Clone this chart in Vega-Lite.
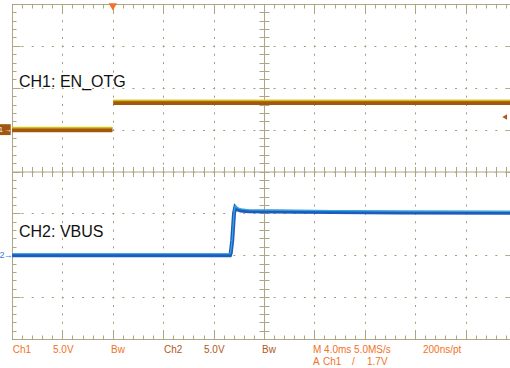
{
  "$schema": "https://vega.github.io/schema/vega-lite/v6.json",
  "width": 498,
  "height": 335,
  "autosize": {"type": "none"},
  "padding": {"left": 12, "top": 4, "right": 0, "bottom": 29},
  "background": "white",
  "config": {
    "view": {"stroke": null},
    "axis": {"domainColor": "#aea584", "tickColor": "#aea584", "gridColor": "#a39b7c", "domainWidth": 1, "tickWidth": 1, "gridWidth": 1, "labels": false, "gridOpacity": 1}
  },
  "datasets": {
    "dummy": [{"t": 0, "d": 0}],
    "ch1": [
      {"t": -8, "v": 0, "seg": "low"},
      {"t": -0.03, "v": 0, "seg": "low"},
      {"t": 0.03, "v": 3.25, "seg": "high"},
      {"t": 31.6, "v": 3.25, "seg": "high"}
    ],
    "ch2": [
      {"t": -8, "v": 0},
      {"t": 9.3, "v": 0},
      {"t": 9.36, "v": 0.25},
      {"t": 9.48, "v": 1.8},
      {"t": 9.62, "v": 5.0},
      {"t": 9.72, "v": 5.72},
      {"t": 9.86, "v": 5.5},
      {"t": 10.15, "v": 5.35},
      {"t": 10.8, "v": 5.25},
      {"t": 14.8, "v": 5.18},
      {"t": 22.7, "v": 5.1},
      {"t": 31.6, "v": 5.06}
    ],
    "labels": [
      {"t": -7.444, "d": 2.018, "text": "CH1: EN_OTG"},
      {"t": -7.444, "d": -1.576, "text": "CH2: VBUS"}
    ],
    "status": [
      {"t": -7.944, "d": -4.34, "text": "Ch1", "src": "ch1"},
      {"t": -4.746, "d": -4.34, "text": "5.0V", "src": "ch1"},
      {"t": -0.143, "d": -4.34, "text": "Bw", "src": "ch1"},
      {"t": 4.063, "d": -4.34, "text": "Ch2", "src": "ch2"},
      {"t": 7.238, "d": -4.34, "text": "5.0V", "src": "ch2"},
      {"t": 11.841, "d": -4.34, "text": "Bw", "src": "ch2"},
      {"t": 15.889, "d": -4.34, "text": "M 4.0ms 5.0MS/s", "src": "scope"},
      {"t": 24.619, "d": -4.34, "text": "200ns/pt", "src": "scope"},
      {"t": 15.889, "d": -4.61, "text": "A", "src": "scope"},
      {"t": 16.683, "d": -4.61, "text": "Ch1", "src": "ch1"},
      {"t": 18.984, "d": -4.61, "text": "/", "src": "scope"},
      {"t": 20.175, "d": -4.61, "text": "1.7V", "src": "scope"}
    ],
    "gnd1": [{"t0": -9, "t1": -8.1, "d0": 0.87, "d1": 1.13}],
    "markers": [
      {"t": 0, "d": 3.93, "kind": "trig"},
      {"t": 31.1, "d": 1.3, "kind": "level"}
    ]
  },
  "resolve": {
    "scale": {"x": "independent", "y": "independent"},
    "axis": {"x": "independent", "y": "independent"}
  },
  "layer": [
    {
      "data": {"name": "dummy"},
      "mark": {"type": "point", "opacity": 0},
      "encoding": {
        "x": {"field": "t", "type": "quantitative", "title": null,
          "scale": {"domain": [-8, 31.5238], "nice": false, "zero": false},
          "axis": {"orient": "bottom", "values": [-8, -4, 0, 4, 8, 12, 16, 20, 24, 28], "grid": true, "gridDash": [2, 6.375], "gridDashOffset": 1, "tickSize": -8, "domain": true, "labels": false}},
        "y": {"field": "d", "type": "quantitative", "title": null,
          "scale": {"domain": [-4, 4], "nice": false, "zero": false},
          "axis": {"orient": "left", "values": [-4, -3, -2, -1, 0, 1, 2, 3, 4], "grid": true, "gridDash": [2, 8.08], "gridDashOffset": 1, "tickSize": -8, "domain": true, "labels": false}}
      }
    },
    {
      "data": {"name": "dummy"},
      "mark": {"type": "point", "opacity": 0},
      "encoding": {
        "x": {"field": "t", "type": "quantitative", "title": null,
          "scale": {"domain": [-8, 31.5238], "nice": false, "zero": false},
          "axis": {"orient": "bottom", "values": [-8,-7.2,-6.4,-5.6,-4.8,-4,-3.2,-2.4,-1.6,-0.8,0,0.8,1.6,2.4,3.2,4,4.8,5.6,6.4,7.2,8,8.8,9.6,10.4,11.2,12,12.8,13.6,14.4,15.2,16,16.8,17.6,18.4,19.2,20,20.8,21.6,22.4,23.2,24,24.8,25.6,26.4,27.2,28,28.8,29.6,30.4,31.2], "grid": false, "tickSize": -4, "domain": false, "labels": false}},
        "y": {"field": "d", "type": "quantitative", "title": null,
          "scale": {"domain": [-4, 4], "nice": false, "zero": false},
          "axis": {"orient": "left", "values": [-4,-3.8,-3.6,-3.4,-3.2,-3,-2.8,-2.6,-2.4,-2.2,-2,-1.8,-1.6,-1.4,-1.2,-1,-0.8,-0.6,-0.4,-0.2,0,0.2,0.4,0.6,0.8,1,1.2,1.4,1.6,1.8,2,2.2,2.4,2.6,2.8,3,3.2,3.4,3.6,3.8,4], "grid": false, "tickSize": -4, "domain": false, "labels": false}}
      }
    },
    {
      "data": {"name": "dummy"},
      "mark": {"type": "point", "opacity": 0},
      "encoding": {
        "x": {"field": "t", "type": "quantitative", "title": null,
          "scale": {"domain": [-8, 31.5238], "nice": false, "zero": false},
          "axis": {"orient": "top", "values": [-8, -4, 0, 4, 8, 12, 16, 20, 24, 28], "grid": false, "tickSize": -8, "domain": true, "labels": false}},
        "y": {"field": "d", "type": "quantitative", "title": null,
          "scale": {"domain": [-4, 4], "nice": false, "zero": false},
          "axis": {"orient": "right", "offset": 7, "values": [-4, -3, -2, -1, 0, 1, 2, 3, 4], "grid": false, "tickSize": -10, "domain": false, "labels": false}}
      }
    },
    {
      "data": {"name": "dummy"},
      "mark": {"type": "point", "opacity": 0},
      "encoding": {
        "x": {"field": "t", "type": "quantitative", "title": null,
          "scale": {"domain": [-8, 31.5238], "nice": false, "zero": false},
          "axis": {"orient": "top", "values": [-8,-7.2,-6.4,-5.6,-4.8,-4,-3.2,-2.4,-1.6,-0.8,0,0.8,1.6,2.4,3.2,4,4.8,5.6,6.4,7.2,8,8.8,9.6,10.4,11.2,12,12.8,13.6,14.4,15.2,16,16.8,17.6,18.4,19.2,20,20.8,21.6,22.4,23.2,24,24.8,25.6,26.4,27.2,28,28.8,29.6,30.4,31.2], "grid": false, "tickSize": -4, "domain": false, "labels": false}},
        "y": {"field": "d", "type": "quantitative", "title": null,
          "scale": {"domain": [-4, 4], "nice": false, "zero": false},
          "axis": {"orient": "left", "offset": -252, "values": [-4,-3.8,-3.6,-3.4,-3.2,-3,-2.8,-2.6,-2.4,-2.2,-2,-1.8,-1.6,-1.4,-1.2,-1,-0.8,-0.6,-0.4,-0.2,0,0.2,0.4,0.6,0.8,1,1.2,1.4,1.6,1.8,2,2.2,2.4,2.6,2.8,3,3.2,3.4,3.6,3.8,4], "grid": false, "tickSize": 5, "domain": true, "labels": false}}
      }
    },
    {
      "data": {"name": "dummy"},
      "mark": {"type": "point", "opacity": 0},
      "encoding": {
        "x": {"field": "t", "type": "quantitative", "title": null,
          "scale": {"domain": [-8, 31.5238], "nice": false, "zero": false},
          "axis": {"orient": "bottom", "offset": -167.5, "values": [-8,-7.2,-6.4,-5.6,-4.8,-4,-3.2,-2.4,-1.6,-0.8,0,0.8,1.6,2.4,3.2,4,4.8,5.6,6.4,7.2,8,8.8,9.6,10.4,11.2,12,12.8,13.6,14.4,15.2,16,16.8,17.6,18.4,19.2,20,20.8,21.6,22.4,23.2,24,24.8,25.6,26.4,27.2,28,28.8,29.6,30.4,31.2], "grid": false, "tickSize": 5, "domain": true, "labels": false}},
        "y": {"field": "d", "type": "quantitative", "title": null,
          "scale": {"domain": [-4, 4], "nice": false, "zero": false},
          "axis": {"orient": "left", "offset": -252, "values": [-4,-3.8,-3.6,-3.4,-3.2,-3,-2.8,-2.6,-2.4,-2.2,-2,-1.8,-1.6,-1.4,-1.2,-1,-0.8,-0.6,-0.4,-0.2,0,0.2,0.4,0.6,0.8,1,1.2,1.4,1.6,1.8,2,2.2,2.4,2.6,2.8,3,3.2,3.4,3.6,3.8,4], "grid": false, "tickSize": -5, "domain": false, "labels": false}}
      }
    },
    {
      "data": {"name": "dummy"},
      "mark": {"type": "point", "opacity": 0},
      "encoding": {
        "x": {"field": "t", "type": "quantitative", "title": null,
          "scale": {"domain": [-8, 31.5238], "nice": false, "zero": false},
          "axis": {"orient": "bottom", "offset": -167.5, "values": [-8,-7.2,-6.4,-5.6,-4.8,-4,-3.2,-2.4,-1.6,-0.8,0,0.8,1.6,2.4,3.2,4,4.8,5.6,6.4,7.2,8,8.8,9.6,10.4,11.2,12,12.8,13.6,14.4,15.2,16,16.8,17.6,18.4,19.2,20,20.8,21.6,22.4,23.2,24,24.8,25.6,26.4,27.2,28,28.8,29.6,30.4,31.2], "grid": false, "tickSize": -5, "domain": false, "labels": false}},
        "y": {"field": "d", "type": "quantitative", "title": null,
          "scale": {"domain": [-4, 4], "nice": false, "zero": false}, "axis": null}
      }
    },
    {
      "data": {"name": "ch1"},
      "mark": {"type": "line", "color": "#a3560f", "strokeWidth": 5, "clip": true},
      "encoding": {
        "x": {"field": "t", "type": "quantitative", "scale": {"domain": [-8, 31.5238], "nice": false, "zero": false}, "axis": null},
        "y": {"field": "v", "type": "quantitative", "scale": {"domain": [-25, 15], "nice": false, "zero": false}, "axis": null},
        "detail": {"field": "seg"}
      }
    },
    {
      "data": {"name": "ch1"},
      "mark": {"type": "line", "color": "#d8c61c", "strokeWidth": 1.8, "yOffset": -2, "opacity": 0.9, "clip": true},
      "encoding": {
        "x": {"field": "t", "type": "quantitative", "scale": {"domain": [-8, 31.5238], "nice": false, "zero": false}, "axis": null},
        "y": {"field": "v", "type": "quantitative", "scale": {"domain": [-25, 15], "nice": false, "zero": false}, "axis": null},
        "detail": {"field": "seg"}
      }
    },
    {
      "data": {"name": "ch2"},
      "mark": {"type": "line", "color": "#1d5bbf", "strokeWidth": 4, "clip": true},
      "encoding": {
        "x": {"field": "t", "type": "quantitative", "scale": {"domain": [-8, 31.5238], "nice": false, "zero": false}, "axis": null},
        "y": {"field": "v", "type": "quantitative", "scale": {"domain": [-10, 30], "nice": false, "zero": false}, "axis": null}
      }
    },
    {
      "data": {"name": "ch2"},
      "mark": {"type": "line", "color": "#3ec3e6", "strokeWidth": 1.2, "yOffset": -1.5, "opacity": 0.75, "clip": true},
      "encoding": {
        "x": {"field": "t", "type": "quantitative", "scale": {"domain": [-8, 31.5238], "nice": false, "zero": false}, "axis": null},
        "y": {"field": "v", "type": "quantitative", "scale": {"domain": [-10, 30], "nice": false, "zero": false}, "axis": null}
      }
    },
    {
      "data": {"name": "gnd1"},
      "mark": {"type": "rect", "color": "#a3560f"},
      "encoding": {
        "x": {"field": "t0", "type": "quantitative", "scale": {"domain": [-8, 31.5238], "nice": false, "zero": false}, "axis": null},
        "x2": {"field": "t1"},
        "y": {"field": "d0", "type": "quantitative", "scale": {"domain": [-4, 4], "nice": false, "zero": false}, "axis": null},
        "y2": {"field": "d1"}
      }
    },
    {
      "data": {"values": [{"t": -8.87, "d": 0.99, "text": "1"}, {"t": -8.3, "d": 1.0, "text": "→"}]},
      "mark": {"type": "text", "color": "white", "fontSize": 7, "font": "Liberation Sans", "align": "center", "baseline": "middle"},
      "encoding": {
        "x": {"field": "t", "type": "quantitative", "scale": {"domain": [-8, 31.5238], "nice": false, "zero": false}, "axis": null},
        "y": {"field": "d", "type": "quantitative", "scale": {"domain": [-4, 4], "nice": false, "zero": false}, "axis": null},
        "text": {"field": "text"}
      }
    },
    {
      "data": {"values": [{"t": -8.8, "d": -2.0, "text": "2"}, {"t": -8.3, "d": -2.0, "text": "→"}]},
      "mark": {"type": "text", "color": "#3b7ed0", "fontSize": 9, "font": "Liberation Sans", "align": "center", "baseline": "middle"},
      "encoding": {
        "x": {"field": "t", "type": "quantitative", "scale": {"domain": [-8, 31.5238], "nice": false, "zero": false}, "axis": null},
        "y": {"field": "d", "type": "quantitative", "scale": {"domain": [-4, 4], "nice": false, "zero": false}, "axis": null},
        "text": {"field": "text"}
      }
    },
    {
      "data": {"name": "markers"},
      "mark": {"type": "point", "filled": true, "opacity": 1},
      "encoding": {
        "x": {"field": "t", "type": "quantitative", "scale": {"domain": [-8, 31.5238], "nice": false, "zero": false}, "axis": null},
        "y": {"field": "d", "type": "quantitative", "scale": {"domain": [-4, 4], "nice": false, "zero": false}, "axis": null},
        "shape": {"field": "kind", "type": "nominal", "scale": {"domain": ["trig", "level"], "range": ["triangle-down", "triangle-left"]}, "legend": null},
        "color": {"field": "kind", "type": "nominal", "scale": {"domain": ["trig", "level"], "range": ["#f27226", "#b0581a"]}, "legend": null},
        "size": {"field": "kind", "type": "nominal", "scale": {"domain": ["trig", "level"], "range": [70, 30]}, "legend": null}
      }
    },
    {
      "data": {"name": "labels"},
      "mark": {"type": "text", "color": "#111111", "fontSize": 16, "font": "Liberation Sans", "align": "left", "baseline": "alphabetic"},
      "encoding": {
        "x": {"field": "t", "type": "quantitative", "scale": {"domain": [-8, 31.5238], "nice": false, "zero": false}, "axis": null},
        "y": {"field": "d", "type": "quantitative", "scale": {"domain": [-4, 4], "nice": false, "zero": false}, "axis": null},
        "text": {"field": "text"}
      }
    },
    {
      "data": {"name": "status"},
      "mark": {"type": "text", "fontSize": 10, "font": "Liberation Sans", "align": "left", "baseline": "alphabetic"},
      "encoding": {
        "x": {"field": "t", "type": "quantitative", "scale": {"domain": [-8, 31.5238], "nice": false, "zero": false}, "axis": null},
        "y": {"field": "d", "type": "quantitative", "scale": {"domain": [-4, 4], "nice": false, "zero": false}, "axis": null},
        "text": {"field": "text"},
        "color": {"field": "src", "type": "nominal", "scale": {"domain": ["ch1", "ch2", "scope"], "range": ["#a0632a", "#3a7bcc", "#555555"]}, "legend": null}
      }
    }
  ]
}
